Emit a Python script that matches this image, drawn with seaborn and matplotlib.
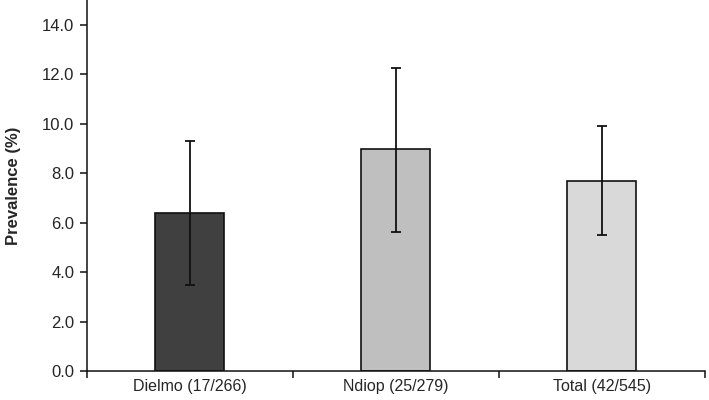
import numpy as np
import pandas as pd
import matplotlib
matplotlib.use("Agg")
import matplotlib.pyplot as plt
import seaborn as sns

# Data
sites = ["Dielmo (17/266)", "Ndiop (25/279)", "Total (42/545)"]
prevalence = [6.4, 8.97, 7.7]
ci_low = [3.47, 5.6, 5.5]
ci_high = [9.31, 12.27, 9.89]
bar_colors = ["#404040", "#bfbfbf", "#d9d9d9"]

df = pd.DataFrame({"Site": sites, "Prevalence": prevalence})

sns.set_style("white")
plt.rcParams["font.family"] = ["Liberation Sans", "DejaVu Sans"]

fig = plt.figure(figsize=(7.09, 4.0), dpi=100)
ax = fig.add_axes([0.1227, 0.0725, 0.8715, 0.9275])

sns.barplot(data=df, x="Site", y="Prevalence", hue="Site", palette=bar_colors,
            width=0.335, edgecolor="#111111", linewidth=1.2, legend=False, ax=ax)

yerr = [np.array(prevalence) - np.array(ci_low), np.array(ci_high) - np.array(prevalence)]
ax.errorbar(np.arange(len(sites)), prevalence, yerr=yerr, fmt="none",
            ecolor="#111111", elinewidth=1.3, capsize=3.3, capthick=1.3)

ax.set_xlim(-0.5, len(sites) - 0.5)
ax.set_ylim(0, 15)
ax.set_yticks(np.arange(0, 15, 2))
ax.set_yticklabels([f"{v:.1f}" for v in np.arange(0, 15, 2)], fontsize=12)
ax.set_xlabel("")
ax.set_ylabel("Prevalence (%)", fontsize=12, fontweight="bold", labelpad=15)

# category labels centred, tick marks on the boundaries
ax.set_xticks(np.arange(len(sites)))
ax.set_xticklabels(sites, fontsize=11.5)
ax.set_xticks(np.arange(-0.5, len(sites)), minor=True)
ax.tick_params(axis="x", which="major", bottom=True, length=0, pad=6)
ax.tick_params(axis="x", which="minor", bottom=True, length=5, width=1.1,
               color="#111111", direction="out")
ax.tick_params(axis="y", left=True, length=5, width=1.1, color="#111111",
               direction="out", pad=4)

for s in ["top", "right"]:
    ax.spines[s].set_visible(False)
for s in ["left", "bottom"]:
    ax.spines[s].set_color("#111111")
    ax.spines[s].set_linewidth(1.1)

fig.savefig("out.png", dpi=100)
